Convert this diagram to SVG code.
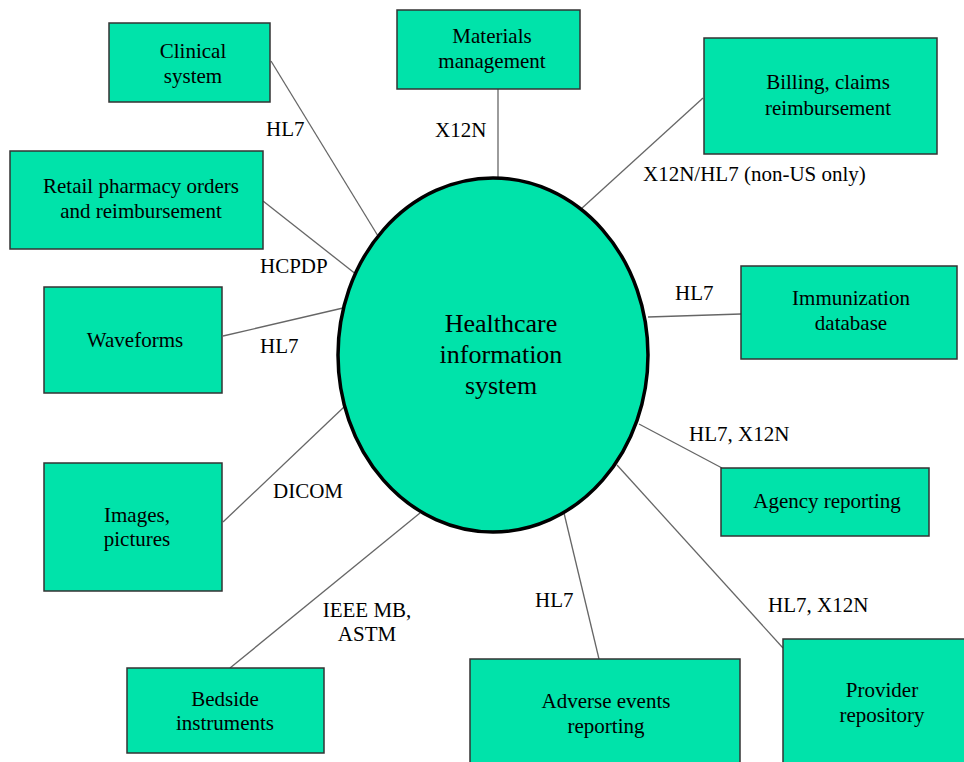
<svg xmlns="http://www.w3.org/2000/svg" width="964" height="762" viewBox="0 0 964 762">
<style>
.box{fill:#00E3AA;stroke:#333;stroke-width:1.5}
.t{font-family:"Liberation Serif","Times New Roman",serif;font-size:21px;fill:#000;text-anchor:middle}
.lb{font-family:"Liberation Serif","Times New Roman",serif;font-size:21px;fill:#000}
.c{stroke:#666;stroke-width:1.3;fill:none}
</style>
<rect width="964" height="762" fill="#fff"/>
<g id="connectors">
<line class="c" x1="271" y1="61" x2="378" y2="236"/>
<line class="c" x1="263" y1="201" x2="357" y2="275"/>
<line class="c" x1="498" y1="89" x2="498" y2="178"/>
<line class="c" x1="703" y1="98" x2="581" y2="209"/>
<line class="c" x1="648" y1="317" x2="741" y2="314"/>
<line class="c" x1="223" y1="336" x2="343" y2="308"/>
<line class="c" x1="223" y1="522" x2="344" y2="407"/>
<line class="c" x1="230" y1="668" x2="420" y2="513"/>
<line class="c" x1="564" y1="513" x2="599" y2="659"/>
<line class="c" x1="639" y1="424" x2="722" y2="468"/>
<line class="c" x1="617" y1="465" x2="783" y2="648"/>
</g>
<g id="connector-labels" font-family="Liberation Serif, Times New Roman, serif">
<text class="lb" x="266" y="136">HL7</text>
<text class="lb" x="435" y="137">X12N</text>
<text class="lb" x="260" y="273">HCPDP</text>
<text class="lb" x="643" y="181">X12N/HL7 (non-US only)</text>
<text class="lb" x="675" y="300">HL7</text>
<text class="lb" x="260" y="353">HL7</text>
<text class="lb" x="273" y="498">DICOM</text>
<text class="t" x="367" y="617">IEEE MB,</text>
<text class="t" x="367" y="641">ASTM</text>
<text class="lb" x="535" y="607">HL7</text>
<text class="lb" x="689" y="441">HL7, X12N</text>
<text class="lb" x="768" y="612">HL7, X12N</text>
</g>
<g id="hub">
<ellipse cx="493" cy="355" rx="155" ry="177" fill="#00E3AA" stroke="#000" stroke-width="3.5"/>
<text class="t" x="501" y="332" style="font-size:26px">Healthcare</text>
<text class="t" x="501" y="363" style="font-size:26px">information</text>
<text class="t" x="501" y="394" style="font-size:26px">system</text>
</g>
<g id="clinical">
<rect class="box" x="109" y="23" width="161" height="79"/>
<text class="t" x="193" y="58">Clinical</text>
<text class="t" x="193" y="83">system</text>
</g>
<g id="materials">
<rect class="box" x="397" y="10" width="183" height="79"/>
<text class="t" x="492" y="43">Materials</text>
<text class="t" x="492" y="68">management</text>
</g>
<g id="billing">
<rect class="box" x="704" y="38" width="233" height="116"/>
<text class="t" x="828" y="89">Billing, claims</text>
<text class="t" x="828" y="115">reimbursement</text>
</g>
<g id="retail">
<rect class="box" x="10" y="151" width="253" height="98"/>
<text class="t" x="141" y="193">Retail pharmacy orders</text>
<text class="t" x="141" y="218">and reimbursement</text>
</g>
<g id="immunization">
<rect class="box" x="741" y="266" width="216" height="93"/>
<text class="t" x="851" y="305">Immunization</text>
<text class="t" x="851" y="330">database</text>
</g>
<g id="waveforms">
<rect class="box" x="44" y="287" width="178" height="106"/>
<text class="t" x="135" y="347">Waveforms</text>
</g>
<g id="images">
<rect class="box" x="44" y="463" width="178" height="128"/>
<text class="t" x="137" y="522">Images,</text>
<text class="t" x="137" y="546">pictures</text>
</g>
<g id="agency">
<rect class="box" x="721" y="468" width="208" height="68"/>
<text class="t" x="827" y="508">Agency reporting</text>
</g>
<g id="bedside">
<rect class="box" x="127" y="668" width="197" height="85"/>
<text class="t" x="225" y="706">Bedside</text>
<text class="t" x="225" y="730">instruments</text>
</g>
<g id="adverse">
<rect class="box" x="470" y="659" width="270" height="106"/>
<text class="t" x="606" y="708">Adverse events</text>
<text class="t" x="606" y="733">reporting</text>
</g>
<g id="provider">
<rect class="box" x="783" y="639" width="185" height="126"/>
<text class="t" x="882" y="697">Provider</text>
<text class="t" x="882" y="722">repository</text>
</g>
</svg>
